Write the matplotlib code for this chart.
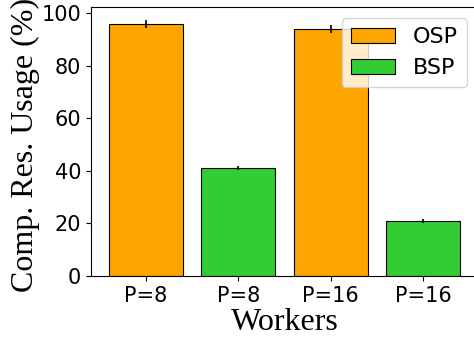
import matplotlib
matplotlib.use("Agg")
import matplotlib.pyplot as plt

# Data
labels = ["P=8", "P=8", "P=16", "P=16"]
usage = [96, 41, 94, 21]
errors = [1.5, 0.8, 1.5, 0.8]
protocols = ["OSP", "BSP", "OSP", "BSP"]
colors = {"OSP": "orange", "BSP": "limegreen"}

fig, ax = plt.subplots(figsize=(4.74, 3.39), dpi=100)

seen = set()
for i, (u, e, p) in enumerate(zip(usage, errors, protocols)):
    lab = p if p not in seen else None
    seen.add(p)
    ax.bar(i, u, width=0.8, yerr=e, color=colors[p], edgecolor="black",
           linewidth=0.8, error_kw=dict(ecolor="black", elinewidth=1.2), label=lab)

ax.set_xticks(range(len(labels)))
ax.set_xticklabels(labels, fontsize=15)
ax.tick_params(axis="y", labelsize=15)
ax.set_yticks([0, 20, 40, 60, 80, 100])

ax.set_xlabel("Workers", fontsize=23, family="Liberation Serif", labelpad=2)
ax.set_ylabel("Comp. Res. Usage (%)", fontsize=23, family="Liberation Serif", labelpad=1)
ax.yaxis.label.set_y(0.488)

ax.legend(loc="upper right", fontsize=16)

# the original is cropped on the right, so the axes run past the canvas edge
plt.subplots_adjust(left=0.192, right=1.008, top=0.979, bottom=0.186)
plt.savefig("out.png")
